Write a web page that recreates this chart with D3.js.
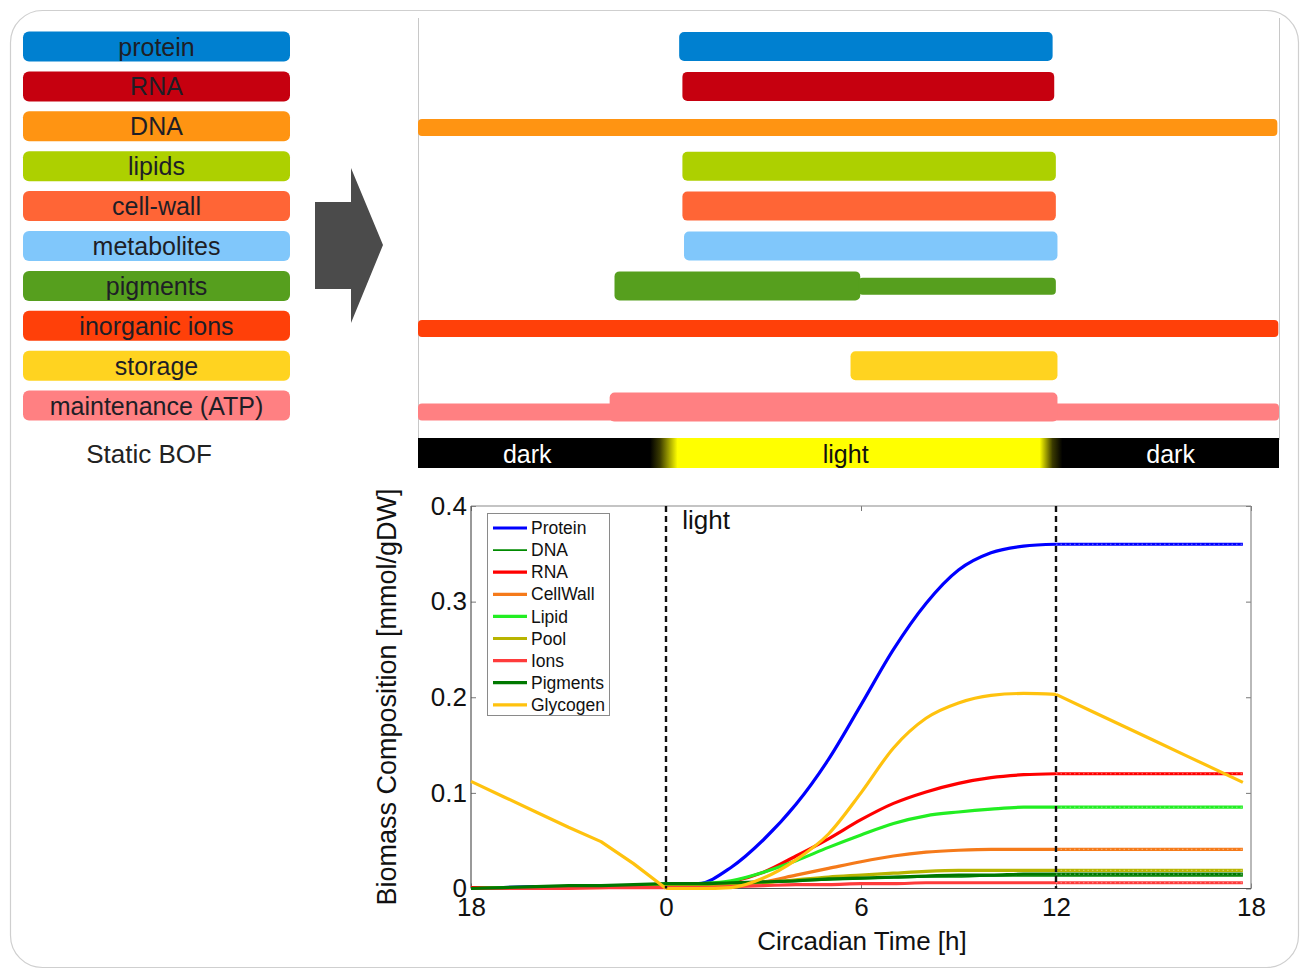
<!DOCTYPE html>
<html><head><meta charset="utf-8">
<script src="https://cdn.jsdelivr.net/npm/d3@7"></script>
<style>
body{margin:0;background:#fff}
svg{display:block}
text{font-family:"Liberation Sans",Arial,Helvetica,sans-serif}
</style>
</head><body>
<svg id="c" width="1309" height="971"></svg>
<script>
// ---------- DATA ----------
// Static BOF components (top-left legend) and their diurnal activity windows (circadian hours)
const components = ["protein","RNA","DNA","lipids","cell-wall","metabolites","pigments","inorganic ions","storage","maintenance (ATP)"];
const componentColors = ["#0080d0","#c6000f","#ff9412","#add000","#ff6536","#80c7fb","#569f1e","#ff4009","#ffd320","#ff8082"];
// each window: [start h, end h, level] ; level 1 = high (thick), 0 = low (thin)
const activity = [
  [[0.5, 12.05, 1]],
  [[0.6, 12.1, 1]],
  [[-7.6, 19.0, 0]],
  [[0.6, 12.15, 1]],
  [[0.6, 12.15, 1]],
  [[0.65, 12.2, 1]],
  [[-1.5, 6.1, 1], [6.05, 12.15, 0]],
  [[-7.6, 19.03, 0]],
  [[5.8, 12.2, 1]],
  [[-7.6, 19.1, 0], [-1.65, 12.2, 1]]
];
const phaseLabels = ["dark","light","dark"];
const phaseLabelAt = [-4.2, 5.65, 15.7];

// Dynamic biomass composition (bottom chart)
const times = [-6,-5,-4,-3,-2,-1,0,1,2,3,4,5,6,7,8,9,10,11,12,13,14,15,16,17,17.75];
const protein  = [0.001,0.001,0.002,0.002,0.003,0.003, 0.004,0.005,0.022,0.051,0.088,0.135,0.192,0.250,0.298,0.333,0.351,0.358,0.360, 0.360,0.360,0.360,0.360,0.360,0.360];
const dna      = [0.000,0.001,0.001,0.002,0.003,0.004, 0.004,0.005,0.006,0.007,0.008,0.009,0.010,0.011,0.012,0.012,0.013,0.013,0.013, 0.013,0.013,0.013,0.013,0.013,0.013];
const rna      = [0.001,0.001,0.001,0.002,0.002,0.003, 0.003,0.003,0.007,0.017,0.034,0.052,0.072,0.089,0.101,0.110,0.116,0.119,0.120, 0.120,0.120,0.120,0.120,0.120,0.120];
const cellWall = [0.000,0.000,0.001,0.001,0.001,0.002, 0.002,0.002,0.003,0.007,0.014,0.021,0.028,0.034,0.038,0.040,0.041,0.041,0.041, 0.041,0.041,0.041,0.041,0.041,0.041];
const lipid    = [0.000,0.001,0.001,0.002,0.002,0.003, 0.004,0.005,0.008,0.017,0.029,0.043,0.056,0.068,0.076,0.080,0.083,0.085,0.085, 0.085,0.085,0.085,0.085,0.085,0.085];
const pool     = [0.000,0.000,0.001,0.001,0.002,0.002, 0.003,0.003,0.004,0.006,0.009,0.012,0.014,0.016,0.018,0.019,0.019,0.019,0.019, 0.019,0.019,0.019,0.019,0.019,0.019];
const ions     = [0.000,0.000,0.000,0.000,0.001,0.001, 0.001,0.001,0.002,0.003,0.004,0.004,0.005,0.005,0.006,0.006,0.006,0.006,0.006, 0.006,0.006,0.006,0.006,0.006,0.006];
const pigments = [0.000,0.001,0.002,0.003,0.003,0.004, 0.005,0.005,0.006,0.007,0.008,0.010,0.011,0.012,0.013,0.014,0.014,0.015,0.015, 0.015,0.015,0.015,0.015,0.015,0.015];
const glycogen = [0.112,0.096,0.080,0.064,0.049,0.026, 0.000,0.000,0.001,0.011,0.030,0.057,0.100,0.147,0.178,0.194,0.202,0.204,0.203, 0.187,0.171,0.155,0.139,0.123,0.111];

const seriesNames  = ["Protein","DNA","RNA","CellWall","Lipid","Pool","Ions","Pigments","Glycogen"];
const seriesValues = [protein, dna, rna, cellWall, lipid, pool, ions, pigments, glycogen];
const seriesColors = ["#0000ff","#008a00","#ff0000","#f57a1a","#22ee22","#b8b400","#ff3b3b","#007800","#ffc20e"];

const xTickValues = [-6,0,6,12,18];
const xTickLabels = ["18","0","6","12","18"];
const yTickValues = [0,0.1,0.2,0.3,0.4];
const yTickLabels = ["0","0.1","0.2","0.3","0.4"];
const markerTimes = [0,12];

// ---------- DRAW ----------
const svg = d3.select("#c");
const defs = svg.append("defs");

// outer frame
svg.append("rect").attr("x",10.5).attr("y",10.5).attr("width",1288).attr("height",957)
  .attr("rx",32).attr("fill","none").attr("stroke","#cfcfcf").attr("stroke-width",1.2);

// left legend (static BOF)
const rowY = d3.scalePoint().domain(components).range([46.5, 405.6]);
const legL = svg.append("g");
components.forEach((c,i)=>{
  legL.append("rect").attr("x",23).attr("y",rowY(c)-15).attr("width",267).attr("height",30)
    .attr("rx",6).attr("fill",componentColors[i]);
  legL.append("text").attr("x",156.5).attr("y",rowY(c)).attr("dy","0.36em")
    .attr("text-anchor","middle").attr("font-size",25).attr("fill","#1e1e26").text(c);
});
legL.append("text").attr("x",149).attr("y",463).attr("text-anchor","middle")
  .attr("font-size",26).attr("fill","#222").text("Static BOF");

// arrow
svg.append("path").attr("d","M315,202 L351,202 L351,168 L383,245 L351,323 L351,289 L315,289 Z")
  .attr("fill","#4b4b4b");

// right panel: diurnal BOF
const panelL = 418, panelR = 1279;
const topX = d3.scaleLinear().domain([0,12]).range([663,1051]);
svg.append("line").attr("x1",panelL+0.5).attr("x2",panelL+0.5).attr("y1",18).attr("y2",440).attr("stroke","#c8c8c8");
svg.append("line").attr("x1",panelR+0.5).attr("x2",panelR+0.5).attr("y1",18).attr("y2",440).attr("stroke","#c8c8c8");

const thinOffset = {"DNA":1.2,"inorganic ions":2.7,"maintenance (ATP)":6.4,"pigments":0.3};
const barsG = svg.append("g");
components.forEach((c,i)=>{
  activity[i].forEach(([s,e,lvl])=>{
    const x0 = Math.max(topX(s), panelL), x1 = Math.min(topX(e), panelR);
    const h = lvl ? 29 : 17;
    const cy = lvl ? (c==="maintenance (ATP)" ? rowY(c)+1.5 : rowY(c)) : rowY(c) + (thinOffset[c]||0);
    barsG.append("rect").attr("x",x0).attr("y",cy-h/2).attr("width",x1-x0).attr("height",h)
      .attr("rx",lvl?5:4).attr("fill",componentColors[i]);
  });
});

// light/dark bar
const grad = defs.append("linearGradient").attr("id","lightGrad")
  .attr("gradientUnits","userSpaceOnUse").attr("x1",panelL).attr("x2",panelR).attr("y1",0).attr("y2",0);
const frac = t => (topX(t)-panelL)/(panelR-panelL);
[[frac(-0.4),"#000"],[frac(-0.1),"#3a3a00"],[frac(0.45),"#ffff00"],
 [frac(11.65),"#ffff00"],[frac(12.05),"#3a3a00"],[frac(12.35),"#000"]]
 .forEach(([o,col])=>grad.append("stop").attr("offset",o).attr("stop-color",col));
svg.append("rect").attr("x",panelL).attr("y",438).attr("width",panelR-panelL).attr("height",30)
  .attr("fill","url(#lightGrad)");
phaseLabels.forEach((p,i)=>{
  svg.append("text").attr("x",topX(phaseLabelAt[i])).attr("y",463).attr("text-anchor","middle")
    .attr("font-size",25).attr("fill",p==="dark"?"#fff":"#111").text(p);
});

// ---------- bottom chart ----------
const x = d3.scaleLinear().domain([-6,18]).range([471,1251]);
const y = d3.scaleLinear().domain([0,0.4]).range([888.5,506]);
const plot = svg.append("g");

// ticks (inward)
const axB = plot.append("g").attr("transform",`translate(0,${y(0)})`)
  .call(d3.axisBottom(x).tickValues(xTickValues).tickFormat((d,i)=>xTickLabels[i]).tickSize(-5).tickPadding(9));
const axL = plot.append("g").attr("transform",`translate(${x(-6)},0)`)
  .call(d3.axisLeft(y).tickValues(yTickValues).tickFormat((d,i)=>yTickLabels[i]).tickSize(-5).tickPadding(4));
const axT = plot.append("g").attr("transform",`translate(0,${y(0.4)})`)
  .call(d3.axisTop(x).tickValues(xTickValues).tickFormat("").tickSize(-5));
const axR = plot.append("g").attr("transform",`translate(${x(18)},0)`)
  .call(d3.axisRight(y).tickValues(yTickValues).tickFormat("").tickSize(-5));
[axB,axL,axT,axR].forEach(g=>{
  g.select(".domain").remove();
  g.selectAll(".tick line").attr("stroke","#777");
  g.selectAll(".tick text").attr("font-size",26).attr("fill","#111")
    .style("font-family",'"Liberation Sans",Arial,sans-serif');
});

// frame
plot.append("line").attr("x1",x(-6)).attr("x2",x(18)).attr("y1",y(0.4)).attr("y2",y(0.4)).attr("stroke","#8a8a8a").attr("stroke-width",1.2);
plot.append("line").attr("x1",x(18)).attr("x2",x(18)).attr("y1",y(0.4)).attr("y2",y(0)).attr("stroke","#8a8a8a").attr("stroke-width",1.2);
plot.append("line").attr("x1",x(-6)).attr("x2",x(18)).attr("y1",y(0)).attr("y2",y(0)).attr("stroke","#555").attr("stroke-width",1.2);
plot.append("line").attr("x1",x(-6)).attr("x2",x(-6)).attr("y1",y(0.4)).attr("y2",y(0)).attr("stroke","#555").attr("stroke-width",1.2);

// series lines: dark phase and post-light phase are linear, light phase smooth
const pts = vals => vals.map((v,i)=>[times[i], v]);
const lineLin = d3.line().x(d=>x(d[0])).y(d=>y(d[1]));
const lineSmooth = d3.line().curve(d3.curveMonotoneX).x(d=>x(d[0])).y(d=>y(d[1]));
const i0 = times.indexOf(0), i12 = times.indexOf(12);
seriesNames.forEach((n,k)=>{
  const p = pts(seriesValues[k]);
  const w = n==="DNA" ? 1.6 : 3.2;
  const g = plot.append("g").attr("fill","none").attr("stroke",seriesColors[k])
    .attr("stroke-width",w).attr("stroke-linejoin","round");
  g.append("path").attr("d", lineLin(p.slice(0,i0+1)));
  g.append("path").attr("d", lineSmooth(p.slice(i0,i12+1)));
  g.append("path").attr("d", lineLin(p.slice(i12)));
  // dotted marker texture on the post-light plateau
  if (n!=="Glycogen" && n!=="DNA") {
    plot.append("path").attr("d", lineLin(p.slice(i12))).attr("fill","none")
      .attr("stroke","#fff").attr("stroke-opacity",0.45).attr("stroke-width",1)
      .attr("stroke-dasharray","1.5,3");
  }
});

// dashed markers
markerTimes.forEach(t=>{
  plot.append("line").attr("x1",x(t)).attr("x2",x(t)).attr("y1",y(0.4)).attr("y2",y(0))
    .attr("stroke","#111").attr("stroke-width",2.4).attr("stroke-dasharray","6,4");
});
plot.append("text").attr("x",x(0.5)).attr("y",529).attr("font-size",26).attr("fill","#111").text("light");

// legend
const lg = plot.append("g");
lg.append("rect").attr("x",487.5).attr("y",513.5).attr("width",122).attr("height",202)
  .attr("fill","#fff").attr("stroke","#8a8a8a");
seriesNames.forEach((n,k)=>{
  const yy = 528 + k*22.1;
  lg.append("line").attr("x1",493).attr("x2",527).attr("y1",yy).attr("y2",yy)
    .attr("stroke",seriesColors[k]).attr("stroke-width", n==="DNA" ? 1.6 : 3.2);
  lg.append("text").attr("x",531).attr("y",yy).attr("dy","0.35em").attr("font-size",17.5)
    .attr("fill","#111").text(n);
});

// axis titles
plot.append("text").attr("transform","translate(396,697) rotate(-90)").attr("text-anchor","middle")
  .attr("font-size",27).attr("fill","#111").text("Biomass Composition [mmol/gDW]");
plot.append("text").attr("x",862).attr("y",950).attr("text-anchor","middle")
  .attr("font-size",26).attr("fill","#111").text("Circadian Time [h]");
</script>
</body></html>
